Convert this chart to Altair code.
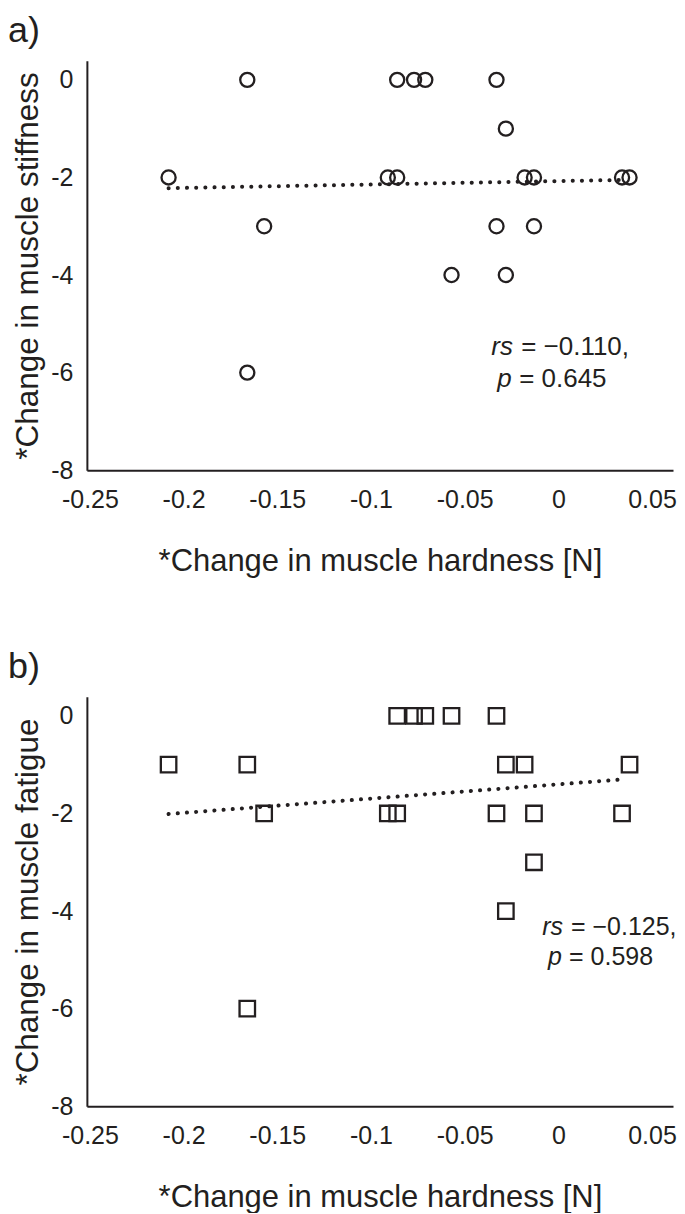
import altair as alt
import pandas as pd

# ---- data ----
hardness = [-0.208, -0.166, -0.166, -0.157, -0.091, -0.086, -0.086, -0.077, -0.071,
            -0.057, -0.033, -0.033, -0.028, -0.028, -0.018, -0.013, -0.013, 0.034, 0.038]
stiffness = [-2, 0, -6, -3, -2, -2, 0, 0, 0, -4, 0, -3, -1, -4, -2, -2, -3, -2, -2]
fatigue = [-1, -1, -6, -2, -2, -2, 0, 0, 0, 0, 0, -2, -1, -4, -1, -2, -3, -2, -1]

trend_a_x = [-0.208, 0.035]
trend_a_y = [-2.22, -2.05]
trend_b_x = [-0.208, 0.035]
trend_b_y = [-2.01, -1.30]

x_ticks = [-0.25, -0.2, -0.15, -0.1, -0.05, 0, 0.05]
y_ticks = [-8, -6, -4, -2, 0]

FONT = "Liberation Sans"
INK = "#231f20"
X_DOMAIN = [-0.2516, 0.0612]
Y_DOMAIN = [-8, 0.39]
W, H = 587, 410


def text_layer(text, x, y, size, style="normal"):
    return alt.Chart(alt.Data(values=[{}])).mark_text(
        text=text, font=FONT, fontSize=size, fontStyle=style, color=INK,
        align="left", baseline="alphabetic"
    ).encode(x=alt.value(x), y=alt.value(y))


def panel(letter, yvals, ytitle, shape, size, tx, ty, rs_val, p_val, ann_x, ann_y, fs):
    df = pd.DataFrame({"hardness": hardness, "score": yvals})
    tdf = pd.DataFrame({"hardness": tx, "score": ty})
    x = alt.X("hardness:Q",
              scale=alt.Scale(domain=X_DOMAIN, nice=False, zero=False),
              axis=alt.Axis(values=x_ticks, labelExpr="'' + datum.value",
                            title="*Change in muscle hardness [N]"))
    y = alt.Y("score:Q",
              scale=alt.Scale(domain=Y_DOMAIN, nice=False, zero=False),
              axis=alt.Axis(values=y_ticks, labelExpr="'' + datum.value",
                            title=ytitle))
    line = alt.Chart(tdf).mark_line(
        color=INK, strokeWidth=4, strokeDash=[0.1, 9.1], strokeCap="round"
    ).encode(x=x, y=y)
    pts = alt.Chart(df).mark_point(
        shape=shape, filled=False, size=size, strokeWidth=2.3, color=INK, opacity=1
    ).encode(x=x, y=y)
    k = fs / 26.0
    layers = [
        line, pts,
        text_layer(letter, -79, -19, 36),
        text_layer("rs", ann_x, ann_y, fs, "italic"),
        text_layer("= \u2212" + rs_val + ",", ann_x + 30 * k, ann_y, fs),
        text_layer("p", ann_x + 6 * k, ann_y + 32 * k, fs, "italic"),
        text_layer("= " + p_val, ann_x + 28 * k, ann_y + 32 * k, fs),
    ]
    return alt.layer(*layers).properties(width=W, height=H)


pa = panel("a)", stiffness, "*Change in muscle stiffness", "circle", 200,
           trend_a_x, trend_a_y, "0.110", "0.645", 405, 295, 26)
pb = panel("b)", fatigue, "*Change in muscle fatigue", "square", 240,
           trend_b_x, trend_b_y, "0.125", "0.598", 456, 238, 25)

chart = alt.vconcat(pa, pb, spacing=73).properties(
    padding={"top": 4, "left": 0, "right": 0, "bottom": 0}
).configure_view(
    stroke=None
).configure_axis(
    domainColor=INK, domainWidth=2, ticks=False, tickSize=0, grid=False,
    labelFont=FONT, labelFontSize=25, labelColor=INK,
    titleFont=FONT, titleFontSize=31.5, titleFontWeight="normal", titleColor=INK,
).configure_axisX(labelPadding=17, titlePadding=34, titleFontSize=31).configure_axisY(
    labelPadding=14, titlePadding=6
)

chart.save("out.html", embed_options={"renderer": "svg", "actions": False})
